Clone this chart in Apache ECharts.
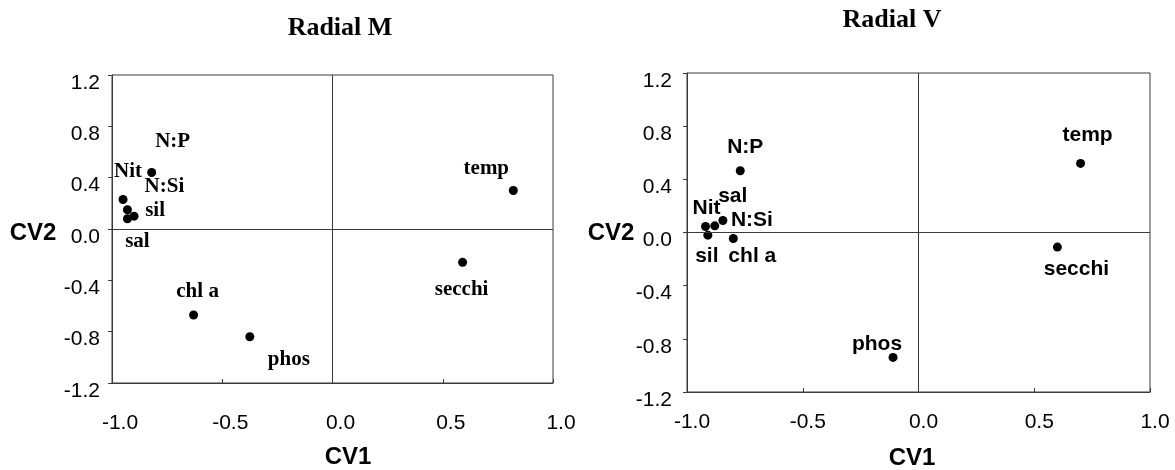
<!DOCTYPE html>
<html>
<head>
<meta charset="utf-8">
<script src="https://cdn.jsdelivr.net/npm/echarts@6/dist/echarts.min.js"></script>
<style>
  html, body { margin: 0; padding: 0; background: #fff; }
  #chart { width: 1175px; height: 470px; }
</style>
</head>
<body>
<div id="chart"></div>
<script>
// Canonical variate loadings of the environmental variables
const varNames = ['Nit', 'N:P', 'N:Si', 'sil', 'sal', 'chl a', 'phos', 'temp', 'secchi'];

// Radial M
const cv1M = [-0.95, -0.82, -0.93, -0.90, -0.93, -0.63, -0.375, 0.82, 0.59];
const cv2M = [0.23, 0.44, 0.15, 0.10, 0.08, -0.67, -0.84, 0.30, -0.26];

// Radial V
const cv1V = [-0.92, -0.77, -0.845, -0.91, -0.88, -0.80, -0.11, 0.70, 0.60];
const cv2V = [0.045, 0.465, 0.09, -0.02, 0.05, -0.045, -0.94, 0.52, -0.11];

// Axis ticks
const xTicks = { min: -1.0, max: 1.0, step: 0.5 };
const yTicks = { min: -1.2, max: 1.2, step: 0.4 };

const panelTitles = ['Radial M', 'Radial V'];
const axisTitles = ['CV1', 'CV2'];

// Label placement (pixel offsets from each dot), kept apart from the values
const labelShiftM = {
  'Nit': [5, -28], 'N:P': [21, -31], 'N:Si': [37, -23], 'sil': [21, -6], 'sal': [10, 23],
  'chl a': [4, -23], 'phos': [39, 23], 'temp': [-27, -22], 'secchi': [-1, 27]
};
const labelShiftV = {
  'Nit': [1, -18], 'N:P': [5, -23], 'N:Si': [29, 0], 'sil': [-1, 21], 'sal': [18, -30],
  'chl a': [19, 18], 'phos': [-16, -13], 'temp': [7, -28], 'secchi': [19, 22]
};

const LINE = '#3a3a3a';
const SANS = '"Liberation Sans", Arial, sans-serif';
const SERIF = '"Liberation Serif", "Times New Roman", serif';

function points(xs, ys, shifts) {
  return varNames.map((n, i) => ({
    name: n,
    value: [xs[i], ys[i]],
    label: { offset: shifts[n] }
  }));
}

function xAxisFor(gridIndex, margin, pad) {
  return {
    gridIndex, type: 'value', min: xTicks.min, max: xTicks.max, interval: xTicks.step,
    axisLine: { show: true, onZero: false, lineStyle: { color: LINE, width: 1 } },
    axisTick: { show: true, inside: true, length: 4, lineStyle: { color: LINE } },
    axisLabel: {
      margin, padding: pad, color: '#000', fontFamily: SANS, fontSize: 21,
      formatter: v => v.toFixed(1)
    },
    splitLine: { show: false }
  };
}

function yAxisFor(gridIndex, margin) {
  return {
    gridIndex, type: 'value', min: yTicks.min, max: yTicks.max, interval: yTicks.step,
    axisLine: { show: true, onZero: false, lineStyle: { color: LINE, width: 1 } },
    axisTick: { show: true, inside: false, length: 4, lineStyle: { color: LINE } },
    axisLabel: {
      margin, verticalAlign: 'top', lineHeight: 16,
      color: '#000', fontFamily: SANS, fontSize: 21,
      formatter: v => v.toFixed(1)
    },
    splitLine: { show: false }
  };
}

function scatterFor(idx, data, font) {
  return {
    type: 'scatter', xAxisIndex: idx, yAxisIndex: idx,
    data, symbol: 'circle', symbolSize: 9,
    itemStyle: { color: '#000', opacity: 1 },
    label: {
      show: true, position: 'inside', formatter: p => p.name,
      color: '#000', opacity: 1, fontWeight: 'bold', fontFamily: font, fontSize: 21
    },
    emphasis: { disabled: true },
    markLine: {
      silent: true, symbol: 'none', animation: false,
      label: { show: false },
      lineStyle: { color: LINE, width: 1, type: 'solid', opacity: 1 },
      data: [{ xAxis: 0 }, { yAxis: 0 }]
    },
    animation: false
  };
}

function txt(x, y, text, font, size) {
  return {
    type: 'text', x, y,
    style: {
      text, fill: '#000', font: 'bold ' + size + 'px ' + font,
      textAlign: 'center', textVerticalAlign: 'middle'
    }
  };
}

const chart = echarts.init(document.getElementById('chart'), null, { renderer: 'canvas' });
chart.setOption({
  backgroundColor: '#fff',
  animation: false,
  grid: [
    { left: 112, top: 75, width: 441, height: 308, show: true, borderColor: LINE, borderWidth: 1, backgroundColor: 'transparent' },
    { left: 687, top: 73, width: 463, height: 319, show: true, borderColor: LINE, borderWidth: 1, backgroundColor: 'transparent' }
  ],
  xAxis: [xAxisFor(0, 30, [0, 0, 0, 16]), xAxisFor(1, 20, [0, 0, 0, 10])],
  yAxis: [yAxisFor(0, 12), yAxisFor(1, 15)],
  series: [
    scatterFor(0, points(cv1M, cv2M, labelShiftM), SERIF),
    scatterFor(1, points(cv1V, cv2V, labelShiftV), SANS)
  ],
  graphic: [
    txt(340, 28, panelTitles[0], SERIF, 26),
    txt(892, 20, panelTitles[1], SERIF, 26),
    txt(348, 457, axisTitles[0], SANS, 24),
    txt(33, 233, axisTitles[1], SANS, 24),
    txt(912, 458, axisTitles[0], SANS, 24),
    txt(611, 233, axisTitles[1], SANS, 24)
  ]
});
</script>
</body>
</html>
